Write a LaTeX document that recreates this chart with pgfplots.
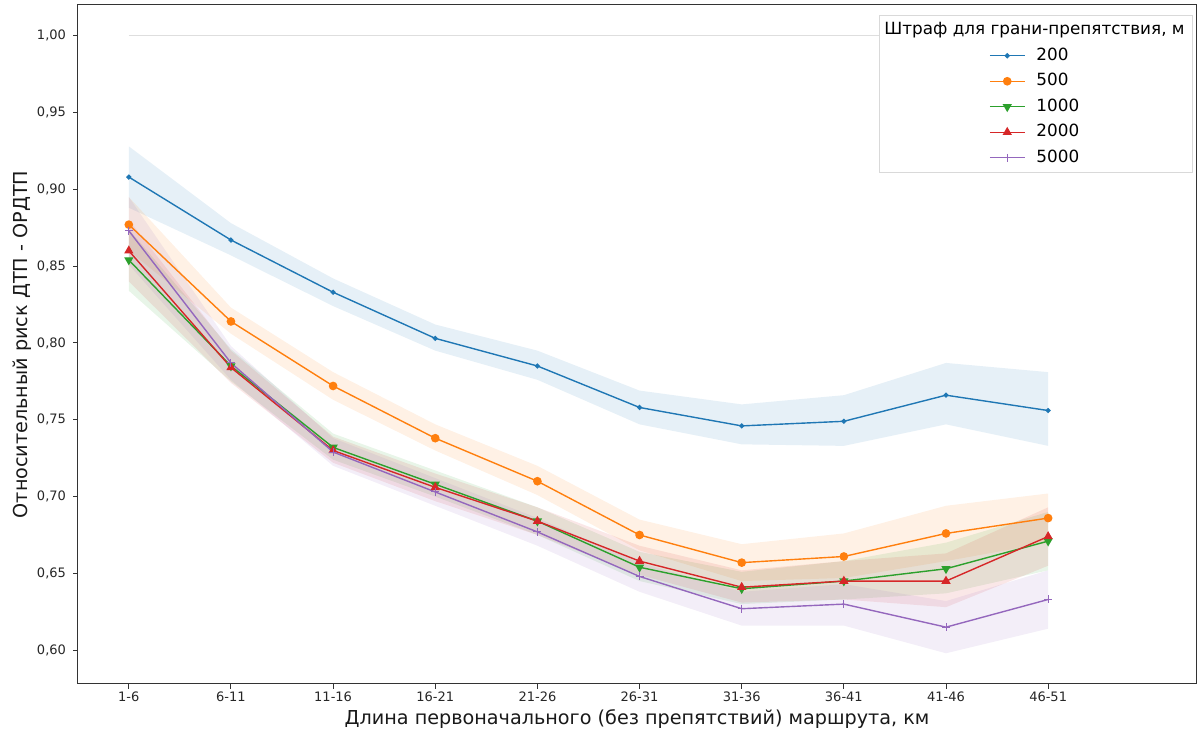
\documentclass[border=0pt]{standalone}
\usepackage{fontspec}
\setmainfont{DejaVu Sans}
\usepackage{pgfplots}
\usepackage{pgfplotstable}
\pgfplotsset{compat=1.18}
\usepgfplotslibrary{fillbetween}

\definecolor{cblue}{HTML}{1F77B4}
\definecolor{corange}{HTML}{FF7F0E}
\definecolor{cgreen}{HTML}{2CA02C}
\definecolor{cred}{HTML}{D62728}
\definecolor{cpurple}{HTML}{9467BD}

\pgfplotstableread{
x y lo hi
0 0.908 0.888 0.928
1 0.867 0.857 0.878
2 0.833 0.824 0.842
3 0.803 0.795 0.812
4 0.785 0.776 0.795
5 0.758 0.747 0.769
6 0.746 0.734 0.760
7 0.749 0.733 0.766
8 0.766 0.747 0.787
9 0.756 0.733 0.781
}\tA
\pgfplotstableread{
x y lo hi
0 0.877 0.860 0.895
1 0.814 0.806 0.823
2 0.772 0.763 0.781
3 0.738 0.730 0.747
4 0.710 0.701 0.720
5 0.675 0.665 0.685
6 0.657 0.645 0.669
7 0.661 0.647 0.676
8 0.676 0.658 0.694
9 0.686 0.670 0.702
}\tB
\pgfplotstableread{
x y lo hi
0 0.854 0.834 0.874
1 0.785 0.775 0.796
2 0.732 0.724 0.741
3 0.708 0.700 0.717
4 0.684 0.675 0.693
5 0.654 0.645 0.664
6 0.640 0.630 0.651
7 0.645 0.633 0.658
8 0.653 0.637 0.670
9 0.671 0.652 0.690
}\tC
\pgfplotstableread{
x y lo hi
0 0.860 0.840 0.880
1 0.784 0.774 0.795
2 0.730 0.722 0.739
3 0.706 0.697 0.715
4 0.684 0.675 0.693
5 0.658 0.649 0.668
6 0.641 0.631 0.652
7 0.645 0.633 0.658
8 0.645 0.628 0.663
9 0.674 0.655 0.693
}\tD
\pgfplotstableread{
x y lo hi
0 0.873 0.851 0.895
1 0.787 0.776 0.798
2 0.729 0.720 0.738
3 0.703 0.694 0.712
4 0.677 0.668 0.686
5 0.648 0.638 0.657
6 0.627 0.616 0.638
7 0.630 0.616 0.643
8 0.615 0.598 0.632
9 0.633 0.614 0.652
}\tE

\begin{document}
\begin{tikzpicture}
\begin{axis}[
  at={(0pt,0pt)}, anchor=south west,
  scale only axis, width=559pt, height=339.5pt,
  xmin=-0.4975, xmax=10.4475, ymin=0.578, ymax=1.020,
  xtick={0,1,2,3,4,5,6,7,8,9},
  xticklabels={1-6,6-11,11-16,16-21,21-26,26-31,31-36,36-41,41-46,46-51},
  ytick={0.60,0.65,0.70,0.75,0.80,0.85,0.90,0.95,1.00},
  tick align=outside, tick pos=left, major tick length=2.5pt,
  tick style={black!80, line width=0.5pt},
  axis line style={black!80, line width=0.5pt},
  ticklabel style={font=\fontsize{6.5}{7.5}\selectfont, text=black!85},
  xticklabel style={yshift=2.2pt},
  /pgf/number format/assume math mode=true,
  yticklabel style={/pgf/number format/.cd, fixed, fixed zerofill, precision=2, use comma},
  xlabel={Длина первоначального (без препятствий) маршрута, км},
  ylabel={Относительный риск ДТП - ОРДТП},
  label style={font=\fontsize{9.6}{11.5}\selectfont, text=black!90},
  xlabel style={at={(axis description cs:0.5,-0.0515)}, anchor=center},
  ylabel style={at={(axis description cs:-0.0501,0.5)}, anchor=center},
  legend cell align=left,
  legend image code/.code={
    \path (0pt,0pt);
    \draw[mark repeat=2,mark phase=2,#1] plot coordinates {(52pt,0pt) (60.75pt,0pt) (69.5pt,0pt)};
  },
  legend style={at={(axis description cs:0.9973,0.9853)}, anchor=north east,
    draw=black!15, fill=white, inner xsep=3pt, inner ysep=2.5pt,
    row sep=2.85pt, column sep=4.5pt,
    font=\fontsize{8.4}{10}\selectfont,
    nodes={inner sep=1pt, text height=6.3pt, text depth=1.6pt}},
]
\addlegendimage{empty legend}
\addlegendentry{\hspace*{-76pt}Штраф для грани-препятствия, м}

% reference line
\addplot[forget plot, draw=black!13, line width=0.75pt] coordinates {(0,1.0) (9.95,1.0)};

% confidence bands
\addplot[name path=ahi, draw=none, forget plot] table[x=x,y=hi] {\tA};
\addplot[name path=alo, draw=none, forget plot] table[x=x,y=lo] {\tA};
\addplot[cblue, fill opacity=0.11, draw=none, forget plot] fill between[of=ahi and alo];
\addplot[name path=bhi, draw=none, forget plot] table[x=x,y=hi] {\tB};
\addplot[name path=blo, draw=none, forget plot] table[x=x,y=lo] {\tB};
\addplot[corange, fill opacity=0.11, draw=none, forget plot] fill between[of=bhi and blo];
\addplot[name path=chi, draw=none, forget plot] table[x=x,y=hi] {\tC};
\addplot[name path=clo, draw=none, forget plot] table[x=x,y=lo] {\tC};
\addplot[cgreen, fill opacity=0.11, draw=none, forget plot] fill between[of=chi and clo];
\addplot[name path=dhi, draw=none, forget plot] table[x=x,y=hi] {\tD};
\addplot[name path=dlo, draw=none, forget plot] table[x=x,y=lo] {\tD};
\addplot[cred, fill opacity=0.11, draw=none, forget plot] fill between[of=dhi and dlo];
\addplot[name path=ehi, draw=none, forget plot] table[x=x,y=hi] {\tE};
\addplot[name path=elo, draw=none, forget plot] table[x=x,y=lo] {\tE};
\addplot[cpurple, fill opacity=0.11, draw=none, forget plot] fill between[of=ehi and elo];

% lines
\addplot[cblue, line width=0.7pt, mark=*, mark size=0.9pt, mark options={solid, fill=cblue, draw=cblue}] table[x=x,y=y] {\tA};
\addlegendentry{200}
\addplot[corange, line width=0.7pt, mark=*, mark size=1.8pt, mark options={solid, fill=corange, draw=corange}] table[x=x,y=y] {\tB};
\addlegendentry{500}
\addplot[cgreen, line width=0.7pt, mark=triangle*, mark size=2pt, mark options={solid, rotate=180, fill=cgreen, draw=cgreen}] table[x=x,y=y] {\tC};
\addlegendentry{1000}
\addplot[cred, line width=0.7pt, mark=triangle*, mark size=2pt, mark options={solid, fill=cred, draw=cred}] table[x=x,y=y] {\tD};
\addlegendentry{2000}
\addplot[cpurple, line width=0.7pt, mark=+, mark size=2pt, mark options={solid, line width=0.5pt}] table[x=x,y=y] {\tE};
\addlegendentry{5000}
\end{axis}
\pgfresetboundingbox
\path[use as bounding box] (-39pt,-23.5pt) rectangle (561pt,342pt);
\end{tikzpicture}
\end{document}
